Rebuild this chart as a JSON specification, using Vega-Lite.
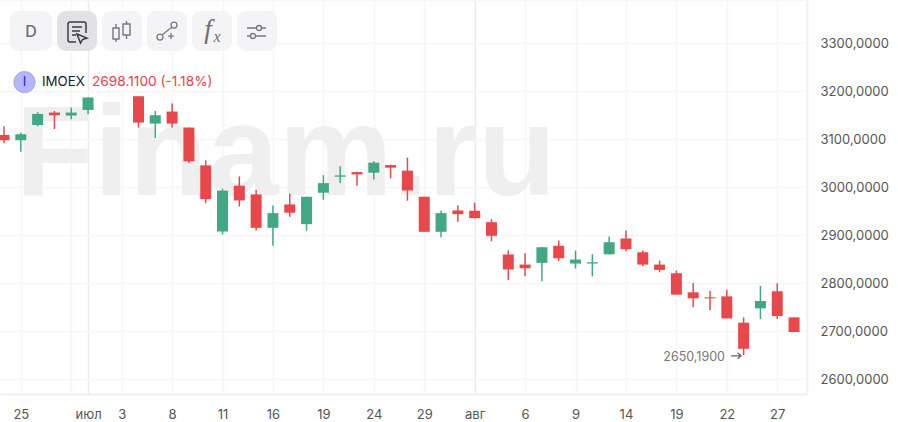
{
  "$schema": "https://vega.github.io/schema/vega-lite/v6.json",
  "width": 807,
  "height": 394,
  "autosize": { "type": "none" },
  "padding": { "left": 0, "top": 0, "right": 91, "bottom": 28 },
  "background": "white",
  "view": { "stroke": null },
  "config": { "font": "Inter" },
  "data": {
    "values": [
      { "i": 0, "open": 3108.6, "high": 3126.7, "low": 3091.8, "close": 3097.5 },
      { "i": 1, "open": 3097.5, "high": 3113.6, "low": 3073.9, "close": 3110 },
      { "i": 2, "open": 3129.4, "high": 3155.9, "low": 3126.7, "close": 3152.4 },
      { "i": 3, "open": 3155.3, "high": 3158.7, "low": 3121.1, "close": 3149.7 },
      { "i": 4, "open": 3149.1, "high": 3165.8, "low": 3141.3, "close": 3155.3 },
      { "i": 5, "open": 3160.7, "high": 3187.3, "low": 3151.8, "close": 3186.6 },
      { "i": 8, "open": 3189.3, "high": 3189.3, "low": 3124, "close": 3134.4 },
      { "i": 9, "open": 3132.3, "high": 3158.7, "low": 3102.3, "close": 3149.7 },
      { "i": 10, "open": 3157.4, "high": 3174.1, "low": 3124, "close": 3132.3 },
      { "i": 11, "open": 3124, "high": 3124, "low": 3050.1, "close": 3053.6 },
      { "i": 12, "open": 3045.3, "high": 3055.7, "low": 2966.6, "close": 2974.9 },
      { "i": 13, "open": 2907.5, "high": 2996.6, "low": 2901.2, "close": 2992.5 },
      { "i": 14, "open": 3002.9, "high": 3022.3, "low": 2959.7, "close": 2972.2 },
      { "i": 15, "open": 2984.8, "high": 2994.6, "low": 2909.6, "close": 2915.2 },
      { "i": 16, "open": 2915.2, "high": 2961.8, "low": 2877.7, "close": 2945.7 },
      { "i": 17, "open": 2963.9, "high": 2986.2, "low": 2938.2, "close": 2946.6 },
      { "i": 18, "open": 2922.8, "high": 2979.9, "low": 2909, "close": 2979.9 },
      { "i": 19, "open": 2988.3, "high": 3025, "low": 2973.7, "close": 3008.3 },
      { "i": 20, "open": 3021.7, "high": 3043.2, "low": 3008.3, "close": 3024.4 },
      { "i": 21, "open": 3031.3, "high": 3032.1, "low": 3002.9, "close": 3026.5 },
      { "i": 22, "open": 3030, "high": 3053.6, "low": 3016.1, "close": 3050.9 },
      { "i": 23, "open": 3045.9, "high": 3046.8, "low": 3018.2, "close": 3040.5 },
      { "i": 24, "open": 3034.2, "high": 3061.4, "low": 2971.6, "close": 2993.1 },
      { "i": 25, "open": 2979.9, "high": 2979.9, "low": 2906.9, "close": 2906.9 },
      { "i": 26, "open": 2906.9, "high": 2951.3, "low": 2895.6, "close": 2945.7 },
      { "i": 27, "open": 2951.3, "high": 2961.8, "low": 2927.8, "close": 2943.6 },
      { "i": 28, "open": 2950.7, "high": 2967.4, "low": 2934.6, "close": 2935.3 },
      { "i": 29, "open": 2926.9, "high": 2933.2, "low": 2887.3, "close": 2898.5 },
      { "i": 30, "open": 2859.5, "high": 2868.5, "low": 2806.7, "close": 2828.2 },
      { "i": 31, "open": 2838.6, "high": 2862.2, "low": 2814.2, "close": 2830.9 },
      { "i": 32, "open": 2842.2, "high": 2874.7, "low": 2803.7, "close": 2874.7 },
      { "i": 33, "open": 2877.7, "high": 2888.7, "low": 2846.3, "close": 2851.8 },
      { "i": 34, "open": 2840.7, "high": 2867.8, "low": 2830.3, "close": 2849 },
      { "i": 35, "open": 2840.7, "high": 2860.1, "low": 2814.2, "close": 2843.4 },
      { "i": 36, "open": 2860.1, "high": 2897, "low": 2859.5, "close": 2885.2 },
      { "i": 37, "open": 2892.9, "high": 2909.6, "low": 2866.4, "close": 2870.6 },
      { "i": 38, "open": 2864.3, "high": 2867.8, "low": 2835.8, "close": 2838.6 },
      { "i": 39, "open": 2838.6, "high": 2847, "low": 2822.5, "close": 2827.5 },
      { "i": 40, "open": 2820.5, "high": 2826.1, "low": 2776, "close": 2776 },
      { "i": 41, "open": 2780.8, "high": 2800.4, "low": 2749.5, "close": 2768.2 },
      { "i": 42, "open": 2770.4, "high": 2783.7, "low": 2744, "close": 2768.2 },
      { "i": 43, "open": 2772.4, "high": 2786.4, "low": 2726.5, "close": 2726.5 },
      { "i": 44, "open": 2717.5, "high": 2728.6, "low": 2650.19, "close": 2663.2 },
      { "i": 45, "open": 2747.4, "high": 2794.1, "low": 2725.2, "close": 2762.8 },
      { "i": 46, "open": 2782.9, "high": 2799.6, "low": 2725.2, "close": 2731.5 },
      { "i": 47, "open": 2728.6, "high": 2728.6, "low": 2698.11, "close": 2698.11 }
    ]
  },
  "layer": [
    {
      "mark": { "type": "text", "font": "Liberation Sans", "fontWeight": "bold", "fontSize": 128, "align": "left", "baseline": "alphabetic", "color": "#efefef" },
      "data": { "values": [{}] },
      "encoding": {
        "x": { "datum": 0.685, "type": "quantitative" },
        "y": { "datum": 2982.7, "type": "quantitative" },
        "text": { "value": "Finam.ru" }
      }
    },
    {
      "mark": { "type": "rule", "strokeWidth": 1.5 },
      "encoding": {
        "x": {
          "field": "i",
          "type": "quantitative",
          "title": null,
          "scale": { "domain": [-0.238, 47.77], "nice": false, "zero": false, "padding": 0 },
          "axis": {
            "values": [1, 4, 5, 7, 10, 13, 16, 19, 22, 25, 28, 31, 34, 37, 40, 43, 46],
            "labelExpr": "{1:'25',4:'',5:'июл',7:'3',10:'8',13:'11',16:'16',19:'19',22:'24',25:'29',28:'авг',31:'6',34:'9',37:'14',40:'19',43:'22',46:'27'}[datum.value]",
            "labelFont": "Inter",
            "labelFontSize": 13,
            "labelColor": "#555555",
            "labelPadding": 14,
            "labelOverlap": false,
            "ticks": false,
            "domainColor": "#eff0f1",
            "domainWidth": 2,
            "grid": true,
            "gridColor": {
              "condition": { "test": "datum.value == 5 || datum.value == 28", "value": "#ebebee" },
              "value": "#f6f6f7"
            },
            "gridWidth": 1.5
          }
        },
        "y": {
          "field": "high",
          "type": "quantitative",
          "title": null,
          "scale": { "domain": [2569, 3389.77], "nice": false, "zero": false, "padding": 0 },
          "axis": {
            "orient": "right",
            "values": [2600, 2700, 2800, 2900, 3000, 3100, 3200, 3300, 3389.5],
            "labelExpr": "datum.value > 3300 ? '' : replace(format(datum.value, '.4f'), '.', ',')",
            "labelFont": "Inter",
            "labelFontSize": 13,
            "labelColor": "#555555",
            "labelPadding": 13,
            "ticks": false,
            "domainColor": "#eff0f1",
            "domainWidth": 2,
            "grid": true,
            "gridColor": "#f6f6f7",
            "gridWidth": 1.5
          }
        },
        "y2": { "field": "low" },
        "color": {
          "condition": { "test": "datum.close > datum.open", "value": "#41a883" },
          "value": "#e8474b"
        }
      }
    },
    {
      "mark": { "type": "bar", "size": 11, "orient": "vertical" },
      "encoding": {
        "x": { "field": "i", "type": "quantitative" },
        "y": { "field": "open", "type": "quantitative" },
        "y2": { "field": "close" },
        "color": {
          "condition": { "test": "datum.close > datum.open", "value": "#41a883" },
          "value": "#e8474b"
        }
      }
    },
    {
      "mark": { "type": "rect", "cornerRadius": 9, "color": "#f4f4f6" },
      "data": { "values": [{}] },
      "encoding": {
        "x": { "datum": 0.357, "type": "quantitative" },
        "x2": { "datum": 2.855 },
        "y": { "datum": 3366.8, "type": "quantitative" },
        "y2": { "datum": 3283.3 }
      }
    },
    {
      "mark": { "type": "rect", "cornerRadius": 9, "color": "#e1e1e6" },
      "data": { "values": [{}] },
      "encoding": {
        "x": { "datum": 3.153, "type": "quantitative" },
        "x2": { "datum": 5.532 },
        "y": { "datum": 3366.8, "type": "quantitative" },
        "y2": { "datum": 3283.3 }
      }
    },
    {
      "mark": { "type": "rect", "cornerRadius": 9, "color": "#f4f4f6" },
      "data": { "values": [{}] },
      "encoding": {
        "x": { "datum": 5.83, "type": "quantitative" },
        "x2": { "datum": 8.209 },
        "y": { "datum": 3366.8, "type": "quantitative" },
        "y2": { "datum": 3283.3 }
      }
    },
    {
      "mark": { "type": "rect", "cornerRadius": 9, "color": "#f4f4f6" },
      "data": { "values": [{}] },
      "encoding": {
        "x": { "datum": 8.507, "type": "quantitative" },
        "x2": { "datum": 10.886 },
        "y": { "datum": 3366.8, "type": "quantitative" },
        "y2": { "datum": 3283.3 }
      }
    },
    {
      "mark": { "type": "rect", "cornerRadius": 9, "color": "#f4f4f6" },
      "data": { "values": [{}] },
      "encoding": {
        "x": { "datum": 11.184, "type": "quantitative" },
        "x2": { "datum": 13.564 },
        "y": { "datum": 3366.8, "type": "quantitative" },
        "y2": { "datum": 3283.3 }
      }
    },
    {
      "mark": { "type": "rect", "cornerRadius": 9, "color": "#f4f4f6" },
      "data": { "values": [{}] },
      "encoding": {
        "x": { "datum": 13.861, "type": "quantitative" },
        "x2": { "datum": 16.24 },
        "y": { "datum": 3366.8, "type": "quantitative" },
        "y2": { "datum": 3283.3 }
      }
    },
    {
      "mark": { "type": "text", "fontSize": 16, "fontWeight": 500, "color": "#6e6e73", "baseline": "middle" },
      "data": { "values": [{}] },
      "encoding": {
        "x": { "datum": 1.606, "type": "quantitative" },
        "y": { "datum": 3322.96, "type": "quantitative" },
        "text": { "value": "D" }
      }
    },
    {
      "mark": {
        "type": "point",
        "filled": false,
        "size": 400,
        "strokeWidth": 1.5,
        "color": "#3c3c42",
        "opacity": 1,
        "shape": "M-0.1,1 L-0.7,1 Q-0.9,1 -0.9,0.8 L-0.9,-0.8 Q-0.9,-1 -0.7,-1 L0.7,-1 Q0.9,-1 0.9,-0.8 L0.9,0.1 M-0.5,-0.5 L0.5,-0.5 M-0.5,-0.1 L0.3,-0.1 M-0.5,0.3 L-0.1,0.3 M0,0.2 L1,0.6 L0.55,0.75 L0.35,1.1 Z"
      },
      "data": { "values": [{}] },
      "encoding": {
        "x": { "datum": 4.343, "type": "quantitative" },
        "y": { "datum": 3322.96, "type": "quantitative" }
      }
    },
    {
      "mark": {
        "type": "point",
        "filled": false,
        "size": 400,
        "strokeWidth": 1.4,
        "color": "#77777c",
        "opacity": 1,
        "shape": "M-0.9,-0.3 L-0.3,-0.3 L-0.3,0.8 L-0.9,0.8 Z M-0.6,-0.7 L-0.6,-0.3 M-0.6,0.8 L-0.6,1.1 M0.1,-0.7 L0.8,-0.7 L0.8,0.4 L0.1,0.4 Z M0.45,-1 L0.45,-0.7 M0.45,0.4 L0.45,0.8"
      },
      "data": { "values": [{}] },
      "encoding": {
        "x": { "datum": 7.02, "type": "quantitative" },
        "y": { "datum": 3325.05, "type": "quantitative" }
      }
    },
    {
      "mark": {
        "type": "point",
        "filled": false,
        "size": 400,
        "strokeWidth": 1.3,
        "color": "#77777c",
        "opacity": 1,
        "shape": "M-0.4,0.5 A0.3,0.3 0 1 0 -1,0.5 A0.3,0.3 0 1 0 -0.4,0.5 M1.0,-0.7 A0.3,0.3 0 1 0 0.4,-0.7 A0.3,0.3 0 1 0 1.0,-0.7 M-0.5,0.3 L0.5,-0.5 M0.1,0.4 L0.7,0.4 M0.4,0.1 L0.4,0.7"
      },
      "data": { "values": [{}] },
      "encoding": {
        "x": { "datum": 9.697, "type": "quantitative" },
        "y": { "datum": 3322.96, "type": "quantitative" }
      }
    },
    {
      "mark": { "type": "text", "font": "Liberation Serif", "fontStyle": "italic", "fontSize": 27, "color": "#6e6e73", "baseline": "alphabetic" },
      "data": { "values": [{}] },
      "encoding": {
        "x": { "datum": 12.136, "type": "quantitative" },
        "y": { "datum": 3310.4, "type": "quantitative" },
        "text": { "value": "f" }
      }
    },
    {
      "mark": { "type": "text", "font": "Liberation Serif", "fontStyle": "italic", "fontSize": 16, "color": "#6e6e73", "baseline": "alphabetic" },
      "data": { "values": [{}] },
      "encoding": {
        "x": { "datum": 12.67, "type": "quantitative" },
        "y": { "datum": 3303.1, "type": "quantitative" },
        "text": { "value": "x" }
      }
    },
    {
      "mark": {
        "type": "point",
        "filled": false,
        "size": 400,
        "strokeWidth": 1.4,
        "color": "#77777c",
        "opacity": 1,
        "shape": "M-1,-0.4 L-0.05,-0.4 M0.45,-0.4 L0.9,-0.4 M0.45,-0.4 A0.25,0.25 0 1 0 -0.05,-0.4 A0.25,0.25 0 1 0 0.45,-0.4 M-1,0.4 L-0.65,0.4 M-0.15,0.4 L0.9,0.4 M-0.15,0.4 A0.25,0.25 0 1 0 -0.65,0.4 A0.25,0.25 0 1 0 -0.15,0.4"
      },
      "data": { "values": [{}] },
      "encoding": {
        "x": { "datum": 15.05, "type": "quantitative" },
        "y": { "datum": 3322.96, "type": "quantitative" }
      }
    },
    {
      "mark": { "type": "point", "filled": true, "shape": "circle", "size": 452, "fill": "#b5b7fb", "stroke": "#a3a6f8", "strokeWidth": 1, "opacity": 1 },
      "data": { "values": [{}] },
      "encoding": {
        "x": { "datum": 1.22, "type": "quantitative" },
        "y": { "datum": 3218.6, "type": "quantitative" }
      }
    },
    {
      "mark": { "type": "text", "fontSize": 13, "color": "#1a1ae6", "baseline": "middle" },
      "data": { "values": [{}] },
      "encoding": {
        "x": { "datum": 1.22, "type": "quantitative" },
        "y": { "datum": 3218.6, "type": "quantitative" },
        "text": { "value": "I" }
      }
    },
    {
      "mark": { "type": "text", "fontSize": 13.3, "color": "#14202c", "align": "left", "baseline": "middle" },
      "data": { "values": [{}] },
      "encoding": {
        "x": { "datum": 2.261, "type": "quantitative" },
        "y": { "datum": 3218.6, "type": "quantitative" },
        "text": { "value": "IMOEX" }
      }
    },
    {
      "mark": { "type": "text", "fontSize": 13.7, "color": "#e6424c", "align": "left", "baseline": "middle" },
      "data": { "values": [{}] },
      "encoding": {
        "x": { "datum": 5.235, "type": "quantitative" },
        "y": { "datum": 3218.6, "type": "quantitative" },
        "text": { "value": "2698.1100 (-1.18%)" }
      }
    },
    {
      "mark": { "type": "text", "fontSize": 12.5, "color": "#777777", "align": "right", "baseline": "middle" },
      "data": { "values": [{}] },
      "encoding": {
        "x": { "datum": 42.89, "type": "quantitative" },
        "y": { "datum": 2646.5, "type": "quantitative" },
        "text": { "value": "2650,1900" }
      }
    },
    {
      "mark": {
        "type": "point",
        "filled": false,
        "size": 100,
        "strokeWidth": 1.3,
        "color": "#666666",
        "opacity": 1,
        "shape": "M-1,0 L1,0 M0.3,-0.6 L1,0 L0.3,0.6"
      },
      "data": { "values": [{}] },
      "encoding": {
        "x": { "datum": 43.55, "type": "quantitative" },
        "y": { "datum": 2648.6, "type": "quantitative" }
      }
    }
  ]
}
